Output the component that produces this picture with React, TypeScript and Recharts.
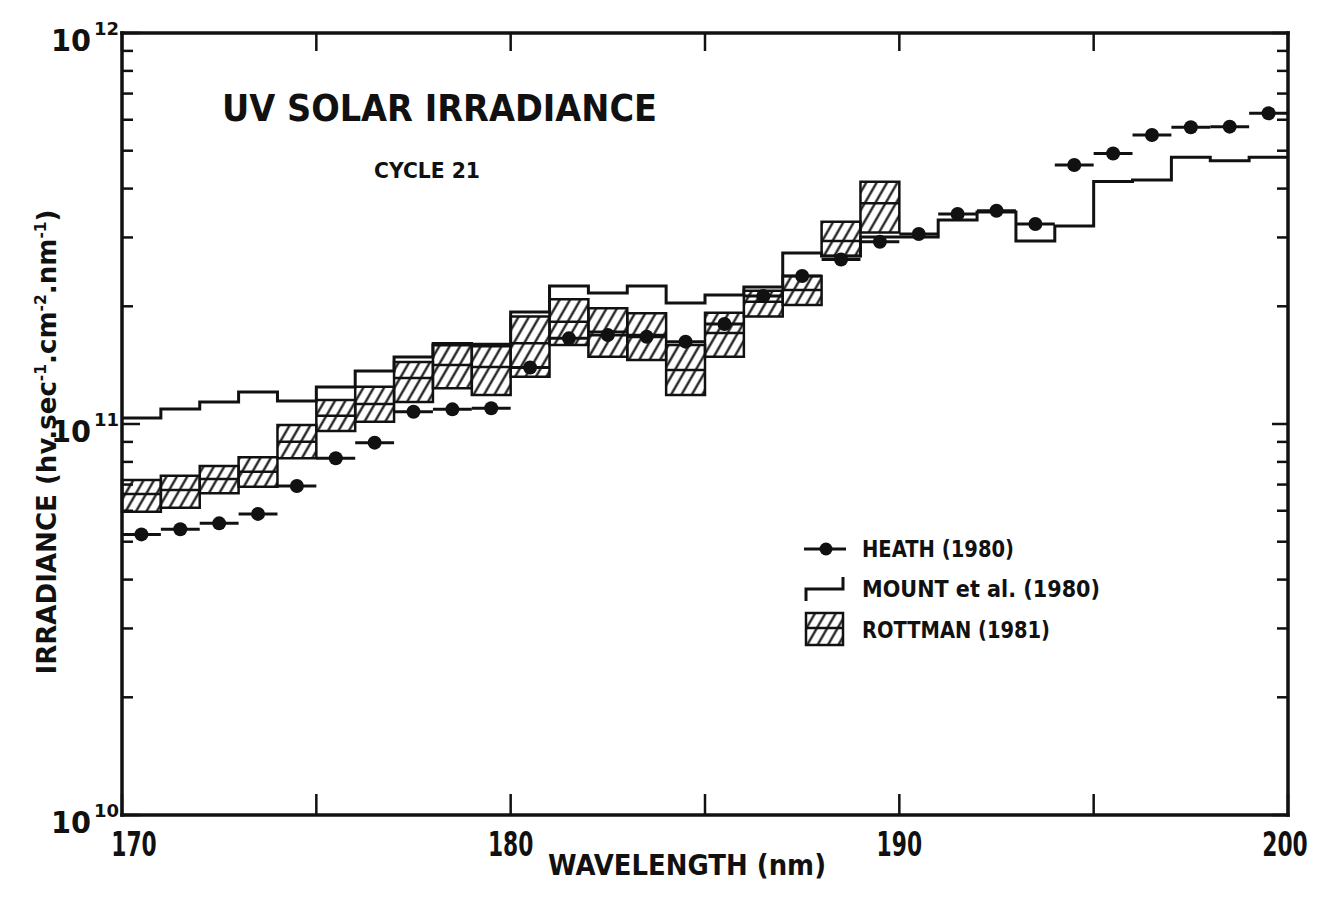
import React from 'react';
import {
  ComposedChart,
  XAxis,
  YAxis,
  Line,
  Scatter,
  ErrorBar,
  ReferenceArea,
  ReferenceLine,
} from 'recharts';

// ---------- data ----------
const mountStart = [170, 171, 172, 173, 174, 175, 176, 177, 178, 179, 180, 181, 182, 183, 184, 185, 186, 187, 188, 189, 190, 191, 192, 193, 194, 195, 196, 197, 198, 199];
const mountValues = [1.036e11, 1.092e11, 1.138e11, 1.207e11, 1.145e11, 1.243e11, 1.366e11, 1.484e11, 1.592e11, 1.583e11, 1.934e11, 2.254e11, 2.163e11, 2.254e11, 2.039e11, 2.137e11, 2.24e11, 2.737e11, 2.689e11, 3.008e11, 3.008e11, 3.324e11, 3.484e11, 2.938e11, 3.209e11, 4.171e11, 4.208e11, 4.81e11, 4.715e11, 4.81e11];
const mountEnd = 200;

const rottmanStart = [170, 171, 172, 173, 174, 175, 176, 177, 178, 179, 180, 181, 182, 183, 184, 185, 186, 187, 188, 189];
const rottmanHigh = [7.192e10, 7.376e10, 7.806e10, 8.221e10, 9.941e10, 1.152e11, 1.246e11, 1.441e11, 1.608e11, 1.602e11, 1.882e11, 2.084e11, 1.976e11, 1.919e11, 1.592e11, 1.926e11, 2.192e11, 2.39e11, 3.291e11, 4.166e11];
const rottmanMid = [6.622e10, 6.782e10, 7.234e10, 7.551e10, 9.008e10, 1.05e11, 1.125e11, 1.311e11, 1.416e11, 1.399e11, 1.608e11, 1.827e11, 1.722e11, 1.689e11, 1.375e11, 1.709e11, 2.055e11, 2.201e11, 2.938e11, 3.667e11];
const rottmanLow = [5.967e10, 6.109e10, 6.649e10, 6.913e10, 8.173e10, 9.596e10, 1.014e11, 1.138e11, 1.234e11, 1.186e11, 1.321e11, 1.592e11, 1.486e11, 1.458e11, 1.186e11, 1.486e11, 1.882e11, 2.015e11, 2.689e11, 3.088e11];
const rottmanBinWidth = 1;

const heathCenter = [170.5, 171.5, 172.5, 173.5, 174.5, 175.5, 176.5, 177.5, 178.5, 179.5, 180.5, 181.5, 182.5, 183.5, 184.5, 185.5, 186.5, 187.5, 188.5, 189.5, 190.5, 191.5, 192.5, 193.5, 194.5, 195.5, 196.5, 197.5, 198.5, 199.5];
const heathValues = [5.22e10, 5.38e10, 5.57e10, 5.89e10, 6.94e10, 8.17e10, 8.96e10, 1.075e11, 1.09e11, 1.097e11, 1.395e11, 1.656e11, 1.689e11, 1.672e11, 1.624e11, 1.802e11, 2.125e11, 2.39e11, 2.634e11, 2.926e11, 3.061e11, 3.444e11, 3.512e11, 3.247e11, 4.596e11, 4.919e11, 5.485e11, 5.739e11, 5.76e11, 6.233e11];
const heathHalfWidth = 0.5;

const xDomain = [170, 200];
const xLabelTicks = [170, 180, 190, 200];
const xAllTicks = [170, 175, 180, 185, 190, 195, 200];
const yDomain = [1e10, 1e12];
const yDecades = [1e10, 1e11, 1e12];
const yMinor = [2e10, 3e10, 4e10, 5e10, 6e10, 7e10, 8e10, 9e10, 2e11, 3e11, 4e11, 5e11, 6e11, 7e11, 8e11, 9e11];
const decadeExp: Record<string, string> = { '10000000000': '10', '100000000000': '11', '1000000000000': '12' };

// ---------- derived tables ----------
const mountData = mountStart
  .map((x, i) => ({ x, y: mountValues[i] }))
  .concat([{ x: mountEnd, y: mountValues[mountValues.length - 1] }]);
const heathData = heathCenter.map((x, i) => ({ x, y: heathValues[i], ex: heathHalfWidth }));
const rottmanBins = rottmanStart.map((x, i) => ({
  x1: x,
  x2: x + rottmanBinWidth,
  lo: rottmanLow[i],
  mid: rottmanMid[i],
  hi: rottmanHigh[i],
}));

const FONT = '"DejaVu Sans", "Liberation Sans", sans-serif';
const INK = '#111';

const NoLabel = () => <g />;

const XTick = (p: any) => {
  const v = p.payload.value;
  if (!xLabelTicks.includes(v)) return <g />;
  const shift = v === 170 ? 12 : v === 200 ? -3 : 0;
  return (
    <text
      transform={`translate(${p.x + shift},${p.y + 41}) scale(0.66,1)`}
      x={0}
      y={0}
      textAnchor="middle"
      fontSize={33}
      fontWeight="bold"
      fontFamily={FONT}
      fill={INK}
    >
      {v}
    </text>
  );
};

const YTick = (p: any) => {
  const v = p.payload.value;
  const exp = decadeExp[String(v)];
  if (!exp) return <g />;
  return (
    <text x={p.x - 71} y={p.y + 18} fontSize={30} fontWeight="bold" fontFamily={FONT} fill={INK}>
      <tspan textLength={40} lengthAdjust="spacingAndGlyphs">10</tspan>
      <tspan dx={3} dy={-16} fontSize={18}>{exp}</tspan>
    </text>
  );
};

const HeathDot = (p: any) => <circle cx={p.cx} cy={p.cy} r={7} fill={INK} />;

const axisLineStyle = { stroke: INK, strokeWidth: 3.5, strokeLinecap: 'square' as const };
const tickLineStyle = { stroke: INK, strokeWidth: 2.5 };

export default function App() {
  return (
    <div style={{ position: 'absolute', left: 0, top: 0, width: 1322, height: 902, background: '#fff' }}>
      <svg width={0} height={0} style={{ position: 'absolute' }}>
        <defs>
          <pattern id="hatch" patternUnits="userSpaceOnUse" width={9} height={9} patternTransform="rotate(30)">
            <line x1={4.5} y1={-1} x2={4.5} y2={10} stroke={INK} strokeWidth={2.2} />
          </pattern>
        </defs>
      </svg>
      <ComposedChart width={1322} height={902} margin={{ top: 33, right: 34, bottom: 0, left: 0 }}>
        <XAxis
          xAxisId="x"
          dataKey="x"
          type="number"
          domain={xDomain}
          ticks={xAllTicks}
          allowDataOverflow
          height={87}
          axisLine={axisLineStyle}
          tickLine={false}
          tickSize={0}
          tickMargin={0}
          tick={XTick}
          interval={0}
        />
        <XAxis
          xAxisId="xbm"
          dataKey="x"
          type="number"
          domain={xDomain}
          ticks={xAllTicks}
          allowDataOverflow
          mirror
          height={1}
          axisLine={false}
          tickLine={tickLineStyle}
          tickSize={21}
          tick={NoLabel}
          interval={0}
        />
        <XAxis
          xAxisId="xtm"
          orientation="top"
          dataKey="x"
          type="number"
          domain={xDomain}
          ticks={xAllTicks}
          allowDataOverflow
          mirror
          height={1}
          axisLine={axisLineStyle}
          tickLine={tickLineStyle}
          tickSize={18}
          tick={NoLabel}
          interval={0}
        />
        <YAxis
          yAxisId="y"
          dataKey="y"
          type="number"
          scale="log"
          domain={yDomain}
          ticks={yDecades}
          allowDataOverflow
          width={122}
          axisLine={axisLineStyle}
          tickLine={false}
          tickSize={0}
          tickMargin={0}
          tick={YTick}
          interval={0}
        />
        <YAxis
          yAxisId="ylM"
          dataKey="y"
          type="number"
          scale="log"
          domain={yDomain}
          ticks={yDecades}
          allowDataOverflow
          mirror
          width={1}
          axisLine={false}
          tickLine={tickLineStyle}
          tickSize={18}
          tick={NoLabel}
          interval={0}
        />
        <YAxis
          yAxisId="ylm"
          dataKey="y"
          type="number"
          scale="log"
          domain={yDomain}
          ticks={yMinor}
          allowDataOverflow
          mirror
          width={1}
          axisLine={false}
          tickLine={tickLineStyle}
          tickSize={10}
          tick={NoLabel}
          interval={0}
        />
        <YAxis
          yAxisId="yrM"
          orientation="right"
          dataKey="y"
          type="number"
          scale="log"
          domain={yDomain}
          ticks={yDecades}
          allowDataOverflow
          mirror
          width={1}
          axisLine={axisLineStyle}
          tickLine={tickLineStyle}
          tickSize={16}
          tick={NoLabel}
          interval={0}
        />
        <YAxis
          yAxisId="yrm"
          orientation="right"
          dataKey="y"
          type="number"
          scale="log"
          domain={yDomain}
          ticks={yMinor}
          allowDataOverflow
          mirror
          width={1}
          axisLine={false}
          tickLine={tickLineStyle}
          tickSize={10}
          tick={NoLabel}
          interval={0}
        />

        {rottmanBins.map((b, i) => (
          <ReferenceArea
            key={'ra' + i}
            xAxisId="x"
            yAxisId="y"
            x1={b.x1}
            x2={b.x2}
            y1={b.lo}
            y2={b.hi}
            fill="url(#hatch)"
            fillOpacity={1}
            stroke={INK}
            strokeWidth={2.5}
            ifOverflow="visible"
          />
        ))}
        {rottmanBins.map((b, i) => (
          <ReferenceLine
            key={'rl' + i}
            xAxisId="x"
            yAxisId="y"
            segment={[
              { x: b.x1, y: b.mid },
              { x: b.x2, y: b.mid },
            ]}
            stroke={INK}
            strokeWidth={2.5}
            ifOverflow="visible"
          />
        ))}

        <Line
          xAxisId="x"
          yAxisId="y"
          data={mountData}
          dataKey="y"
          type="stepAfter"
          stroke={INK}
          strokeWidth={3}
          dot={false}
          activeDot={false}
          isAnimationActive={false}
        />
        <Scatter
          xAxisId="x"
          yAxisId="y"
          data={heathData}
          dataKey="y"
          shape={HeathDot}
          isAnimationActive={false}
        >
          <ErrorBar dataKey="ex" direction="x" width={0} stroke={INK} strokeWidth={3} isAnimationActive={false} />
        </Scatter>
      </ComposedChart>

      <svg
        width={1322}
        height={902}
        style={{ position: 'absolute', left: 0, top: 0, pointerEvents: 'none' }}
        fontFamily={FONT}
        fontWeight="bold"
        fill={INK}
      >
        <text x={222} y={121} fontSize={37} textLength={435} lengthAdjust="spacingAndGlyphs">
          UV  SOLAR  IRRADIANCE
        </text>
        <text x={374} y={178} fontSize={21} textLength={106} lengthAdjust="spacingAndGlyphs">
          CYCLE 21
        </text>
        <text x={548} y={875} fontSize={29} textLength={278} lengthAdjust="spacingAndGlyphs">
          WAVELENGTH  (nm)
        </text>
        <text
          transform="translate(56,442) rotate(-90)"
          textAnchor="middle"
          fontSize={27}
          textLength={465}
          lengthAdjust="spacingAndGlyphs"
        >
          IRRADIANCE  (hv.sec<tspan dy={-10} fontSize={16}>-1</tspan>
          <tspan dy={10}>.cm</tspan>
          <tspan dy={-10} fontSize={16}>-2</tspan>
          <tspan dy={10}>.nm</tspan>
          <tspan dy={-10} fontSize={16}>-1</tspan>
          <tspan dy={10}>)</tspan>
        </text>

        {/* legend */}
        <line x1={804} y1={549} x2={846} y2={549} stroke={INK} strokeWidth={3} />
        <circle cx={826} cy={549} r={6.5} fill={INK} />
        <text x={862} y={557} fontSize={23} textLength={152} lengthAdjust="spacingAndGlyphs">HEATH  (1980)</text>

        <path d="M806,601 V589 H843 V577" fill="none" stroke={INK} strokeWidth={3} />
        <text x={862} y={597} fontSize={23} textLength={238} lengthAdjust="spacingAndGlyphs">MOUNT  et  al. (1980)</text>

        <rect x={806} y={613} width={37} height={32} fill="url(#hatch)" stroke={INK} strokeWidth={2.5} />
        <line x1={806} y1={628} x2={843} y2={628} stroke={INK} strokeWidth={2.5} />
        <text x={862} y={638} fontSize={23} textLength={188} lengthAdjust="spacingAndGlyphs">ROTTMAN  (1981)</text>
      </svg>
    </div>
  );
}
